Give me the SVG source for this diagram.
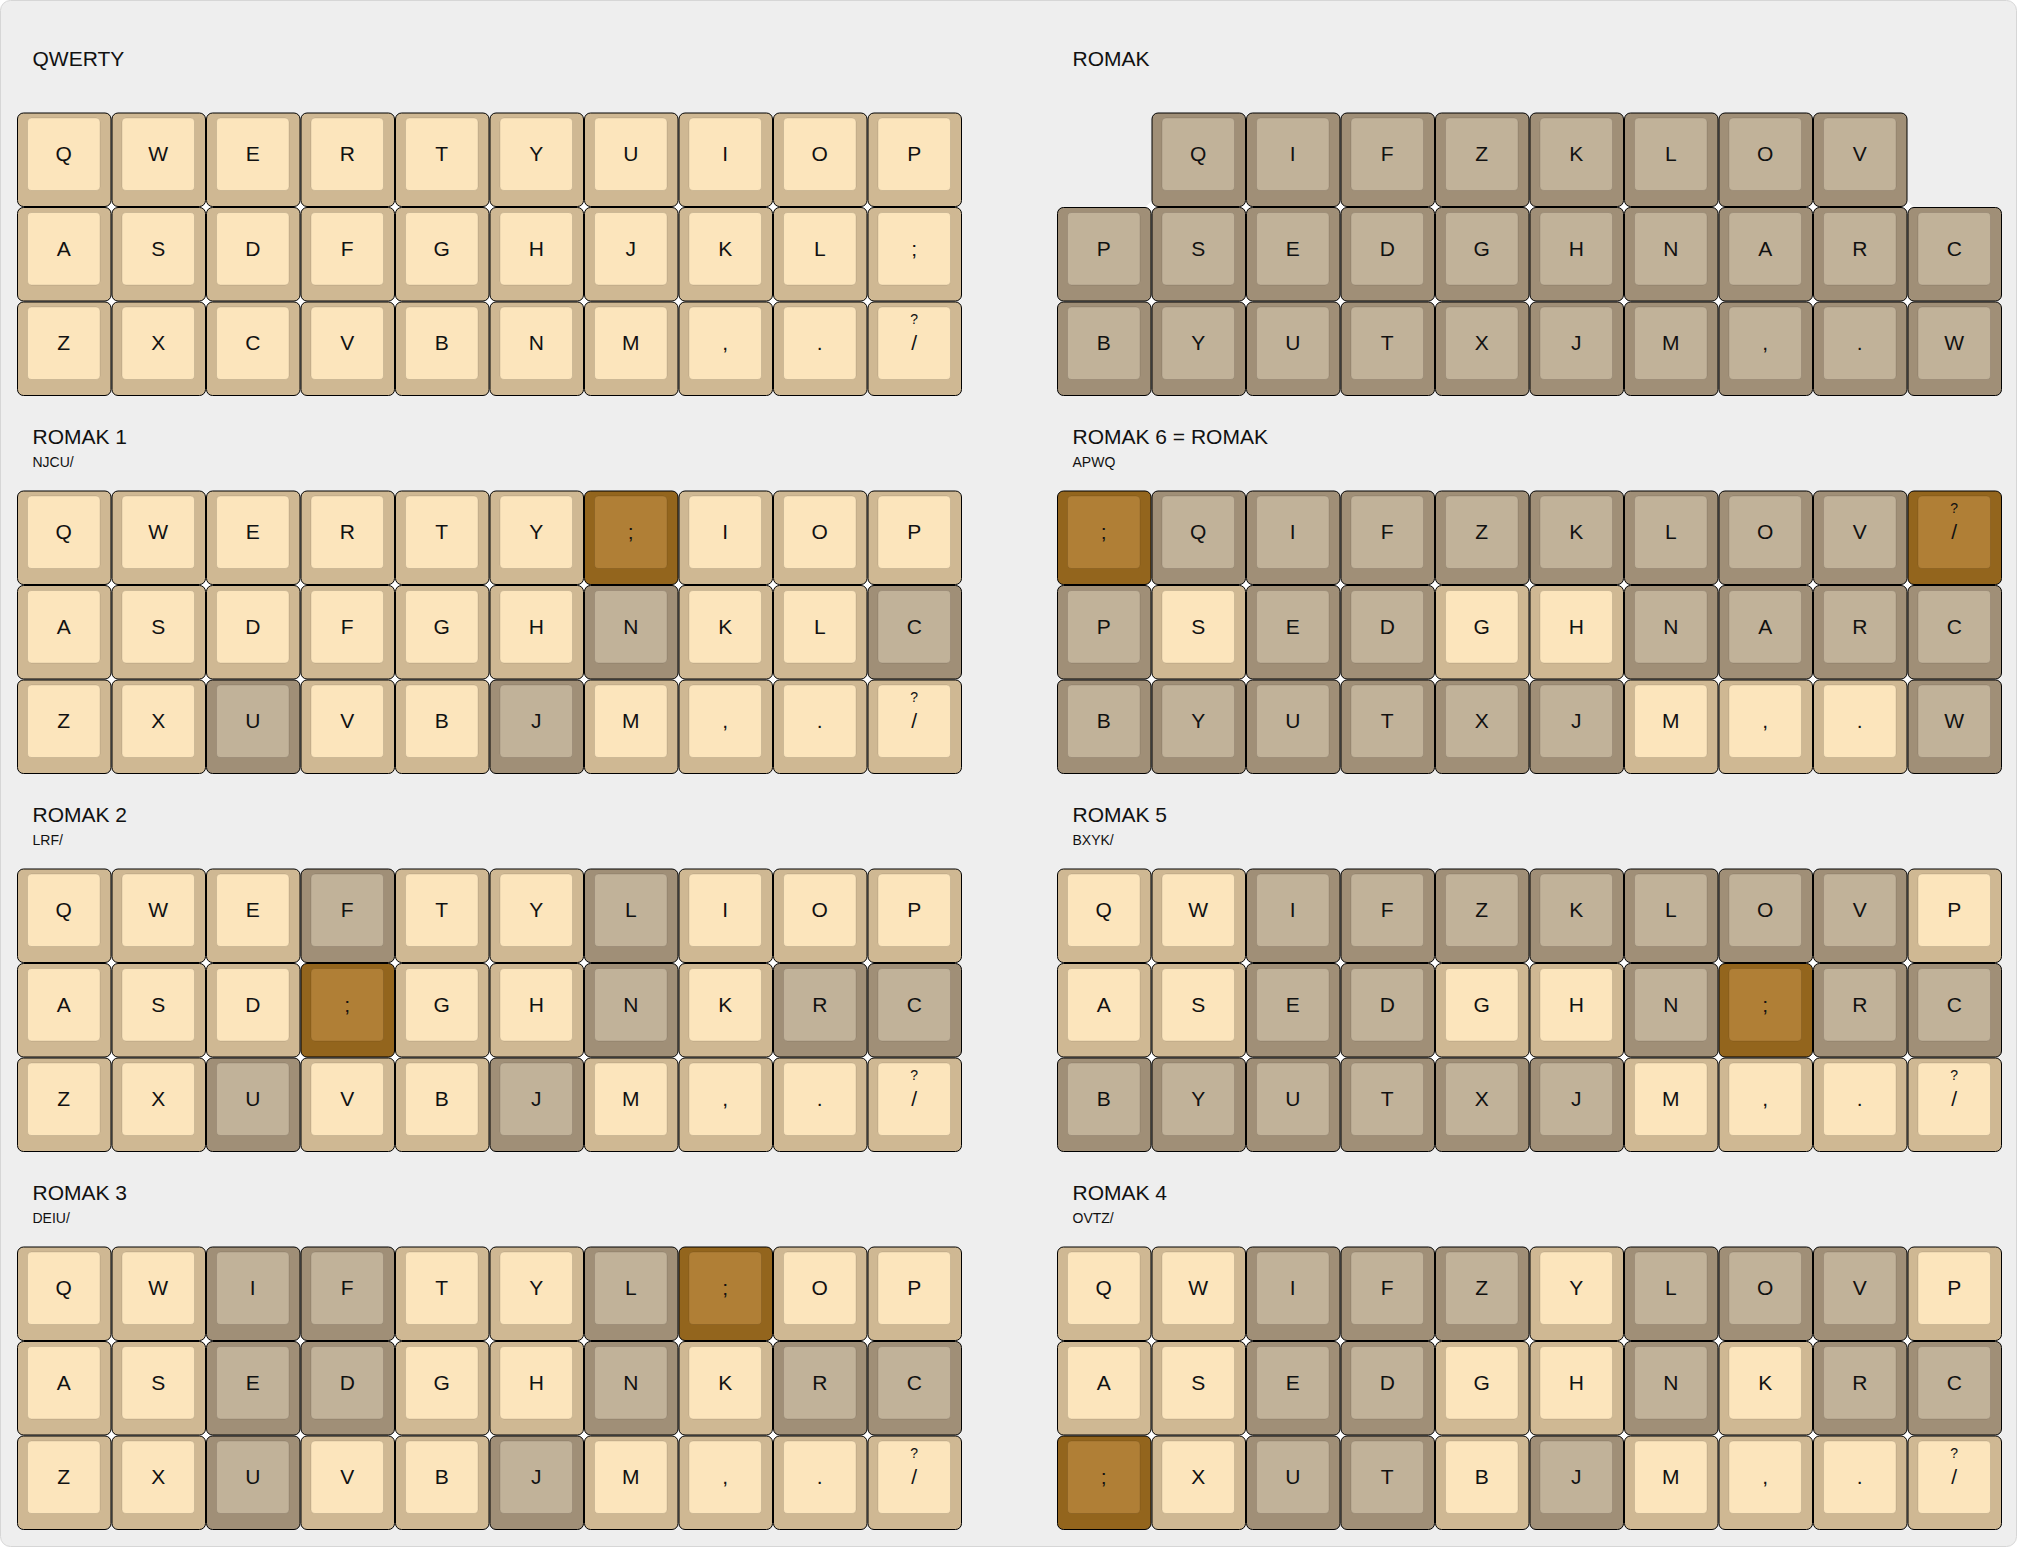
<svg xmlns="http://www.w3.org/2000/svg" xmlns:xlink="http://www.w3.org/1999/xlink" width="2020" height="1547" viewBox="0 0 2020 1547">
<style>
.kb text{font-family:"Liberation Sans",Arial,sans-serif;font-size:21px;text-anchor:middle;fill:#111}
.kb text.sm{font-size:14px}
.title{font-family:"Liberation Sans",Arial,sans-serif;font-size:21px;fill:#111}
.sub{font-family:"Liberation Sans",Arial,sans-serif;font-size:14px;fill:#111}
</style>
<defs>
<g id="L"><rect x="0.5" y="0.5" width="93.5" height="93.5" rx="6" fill="#cfb893" stroke="#000"/><rect x="10.5" y="5.5" width="72.5" height="72.5" rx="4" fill="#fce5bc" stroke="#000" stroke-opacity="0.1"/></g>
<g id="G"><rect x="0.5" y="0.5" width="93.5" height="93.5" rx="6" fill="#a08f77" stroke="#000"/><rect x="10.5" y="5.5" width="72.5" height="72.5" rx="4" fill="#c1b299" stroke="#000" stroke-opacity="0.1"/></g>
<g id="B"><rect x="0.5" y="0.5" width="93.5" height="93.5" rx="6" fill="#93651d" stroke="#000"/><rect x="10.5" y="5.5" width="72.5" height="72.5" rx="4" fill="#b07f36" stroke="#000" stroke-opacity="0.1"/></g>
<path id="junc" fill="#fff" d="M88.5 94.5l6-6 6 6-6 6zM183 94.5l6-6 6 6-6 6zM277.5 94.5l6-6 6 6-6 6zM372 94.5l6-6 6 6-6 6zM466.5 94.5l6-6 6 6-6 6zM561 94.5l6-6 6 6-6 6zM655.5 94.5l6-6 6 6-6 6zM750 94.5l6-6 6 6-6 6zM844.5 94.5l6-6 6 6-6 6zM88.5 189l6-6 6 6-6 6zM183 189l6-6 6 6-6 6zM277.5 189l6-6 6 6-6 6zM372 189l6-6 6 6-6 6zM466.5 189l6-6 6 6-6 6zM561 189l6-6 6 6-6 6zM655.5 189l6-6 6 6-6 6zM750 189l6-6 6 6-6 6zM844.5 189l6-6 6 6-6 6z"/>
</defs>
<rect x="0" y="0" width="2020" height="1547" fill="#fff"/>
<rect x="0.5" y="0.5" width="2016" height="1546" rx="10" fill="#eeeeee" stroke="#d6d6d6"/>

<g id="titles">
<text class="title" x="32.5" y="66">QWERTY</text>
<text class="title" x="1072.5" y="66">ROMAK</text>
<text class="title" x="32.5" y="444.3">ROMAK 1</text>
<text class="sub" x="32.5" y="466.7">NJCU/</text>
<text class="title" x="1072.5" y="444.3">ROMAK 6 = ROMAK</text>
<text class="sub" x="1072.5" y="466.7">APWQ</text>
<text class="title" x="32.5" y="822.3">ROMAK 2</text>
<text class="sub" x="32.5" y="844.7">LRF/</text>
<text class="title" x="1072.5" y="822.3">ROMAK 5</text>
<text class="sub" x="1072.5" y="844.7">BXYK/</text>
<text class="title" x="32.5" y="1200.3">ROMAK 3</text>
<text class="sub" x="32.5" y="1222.7">DEIU/</text>
<text class="title" x="1072.5" y="1200.3">ROMAK 4</text>
<text class="sub" x="1072.5" y="1222.7">OVTZ/</text>
</g>

<g id="kb-qwerty" class="kb" transform="translate(17 112.5)">
<use href="#junc"/>
<g id="qw-0-0" transform="translate(0 0)"><use href="#L"/><text x="46.75" y="48.5">Q</text></g>
<g id="qw-0-1" transform="translate(94.5 0)"><use href="#L"/><text x="46.75" y="48.5">W</text></g>
<g id="qw-0-2" transform="translate(189 0)"><use href="#L"/><text x="46.75" y="48.5">E</text></g>
<g id="qw-0-3" transform="translate(283.5 0)"><use href="#L"/><text x="46.75" y="48.5">R</text></g>
<g id="qw-0-4" transform="translate(378 0)"><use href="#L"/><text x="46.75" y="48.5">T</text></g>
<g id="qw-0-5" transform="translate(472.5 0)"><use href="#L"/><text x="46.75" y="48.5">Y</text></g>
<g id="qw-0-6" transform="translate(567 0)"><use href="#L"/><text x="46.75" y="48.5">U</text></g>
<g id="qw-0-7" transform="translate(661.5 0)"><use href="#L"/><text x="46.75" y="48.5">I</text></g>
<g id="qw-0-8" transform="translate(756 0)"><use href="#L"/><text x="46.75" y="48.5">O</text></g>
<g id="qw-0-9" transform="translate(850.5 0)"><use href="#L"/><text x="46.75" y="48.5">P</text></g>
<g id="qw-1-0" transform="translate(0 94.5)"><use href="#L"/><text x="46.75" y="48.5">A</text></g>
<g id="qw-1-1" transform="translate(94.5 94.5)"><use href="#L"/><text x="46.75" y="48.5">S</text></g>
<g id="qw-1-2" transform="translate(189 94.5)"><use href="#L"/><text x="46.75" y="48.5">D</text></g>
<g id="qw-1-3" transform="translate(283.5 94.5)"><use href="#L"/><text x="46.75" y="48.5">F</text></g>
<g id="qw-1-4" transform="translate(378 94.5)"><use href="#L"/><text x="46.75" y="48.5">G</text></g>
<g id="qw-1-5" transform="translate(472.5 94.5)"><use href="#L"/><text x="46.75" y="48.5">H</text></g>
<g id="qw-1-6" transform="translate(567 94.5)"><use href="#L"/><text x="46.75" y="48.5">J</text></g>
<g id="qw-1-7" transform="translate(661.5 94.5)"><use href="#L"/><text x="46.75" y="48.5">K</text></g>
<g id="qw-1-8" transform="translate(756 94.5)"><use href="#L"/><text x="46.75" y="48.5">L</text></g>
<g id="qw-1-9" transform="translate(850.5 94.5)"><use href="#L"/><text x="46.75" y="48.5">;</text></g>
<g id="qw-2-0" transform="translate(0 189)"><use href="#L"/><text x="46.75" y="48.5">Z</text></g>
<g id="qw-2-1" transform="translate(94.5 189)"><use href="#L"/><text x="46.75" y="48.5">X</text></g>
<g id="qw-2-2" transform="translate(189 189)"><use href="#L"/><text x="46.75" y="48.5">C</text></g>
<g id="qw-2-3" transform="translate(283.5 189)"><use href="#L"/><text x="46.75" y="48.5">V</text></g>
<g id="qw-2-4" transform="translate(378 189)"><use href="#L"/><text x="46.75" y="48.5">B</text></g>
<g id="qw-2-5" transform="translate(472.5 189)"><use href="#L"/><text x="46.75" y="48.5">N</text></g>
<g id="qw-2-6" transform="translate(567 189)"><use href="#L"/><text x="46.75" y="48.5">M</text></g>
<g id="qw-2-7" transform="translate(661.5 189)"><use href="#L"/><text x="46.75" y="48.5">,</text></g>
<g id="qw-2-8" transform="translate(756 189)"><use href="#L"/><text x="46.75" y="48.5">.</text></g>
<g id="qw-2-9" transform="translate(850.5 189)"><use href="#L"/><text class="sm" x="46.75" y="22.5">?</text><text x="46.75" y="48.5">/</text></g>
</g>

<g id="kb-romak" class="kb" transform="translate(1057 112.5)">
<use href="#junc"/>
<g id="rm-0-1" transform="translate(94.5 0)"><use href="#G"/><text x="46.75" y="48.5">Q</text></g>
<g id="rm-0-2" transform="translate(189 0)"><use href="#G"/><text x="46.75" y="48.5">I</text></g>
<g id="rm-0-3" transform="translate(283.5 0)"><use href="#G"/><text x="46.75" y="48.5">F</text></g>
<g id="rm-0-4" transform="translate(378 0)"><use href="#G"/><text x="46.75" y="48.5">Z</text></g>
<g id="rm-0-5" transform="translate(472.5 0)"><use href="#G"/><text x="46.75" y="48.5">K</text></g>
<g id="rm-0-6" transform="translate(567 0)"><use href="#G"/><text x="46.75" y="48.5">L</text></g>
<g id="rm-0-7" transform="translate(661.5 0)"><use href="#G"/><text x="46.75" y="48.5">O</text></g>
<g id="rm-0-8" transform="translate(756 0)"><use href="#G"/><text x="46.75" y="48.5">V</text></g>
<g id="rm-1-0" transform="translate(0 94.5)"><use href="#G"/><text x="46.75" y="48.5">P</text></g>
<g id="rm-1-1" transform="translate(94.5 94.5)"><use href="#G"/><text x="46.75" y="48.5">S</text></g>
<g id="rm-1-2" transform="translate(189 94.5)"><use href="#G"/><text x="46.75" y="48.5">E</text></g>
<g id="rm-1-3" transform="translate(283.5 94.5)"><use href="#G"/><text x="46.75" y="48.5">D</text></g>
<g id="rm-1-4" transform="translate(378 94.5)"><use href="#G"/><text x="46.75" y="48.5">G</text></g>
<g id="rm-1-5" transform="translate(472.5 94.5)"><use href="#G"/><text x="46.75" y="48.5">H</text></g>
<g id="rm-1-6" transform="translate(567 94.5)"><use href="#G"/><text x="46.75" y="48.5">N</text></g>
<g id="rm-1-7" transform="translate(661.5 94.5)"><use href="#G"/><text x="46.75" y="48.5">A</text></g>
<g id="rm-1-8" transform="translate(756 94.5)"><use href="#G"/><text x="46.75" y="48.5">R</text></g>
<g id="rm-1-9" transform="translate(850.5 94.5)"><use href="#G"/><text x="46.75" y="48.5">C</text></g>
<g id="rm-2-0" transform="translate(0 189)"><use href="#G"/><text x="46.75" y="48.5">B</text></g>
<g id="rm-2-1" transform="translate(94.5 189)"><use href="#G"/><text x="46.75" y="48.5">Y</text></g>
<g id="rm-2-2" transform="translate(189 189)"><use href="#G"/><text x="46.75" y="48.5">U</text></g>
<g id="rm-2-3" transform="translate(283.5 189)"><use href="#G"/><text x="46.75" y="48.5">T</text></g>
<g id="rm-2-4" transform="translate(378 189)"><use href="#G"/><text x="46.75" y="48.5">X</text></g>
<g id="rm-2-5" transform="translate(472.5 189)"><use href="#G"/><text x="46.75" y="48.5">J</text></g>
<g id="rm-2-6" transform="translate(567 189)"><use href="#G"/><text x="46.75" y="48.5">M</text></g>
<g id="rm-2-7" transform="translate(661.5 189)"><use href="#G"/><text x="46.75" y="48.5">,</text></g>
<g id="rm-2-8" transform="translate(756 189)"><use href="#G"/><text x="46.75" y="48.5">.</text></g>
<g id="rm-2-9" transform="translate(850.5 189)"><use href="#G"/><text x="46.75" y="48.5">W</text></g>
</g>

<g id="kb-romak1" class="kb" transform="translate(17 490.5)">
<use href="#junc"/>
<g id="r1-0-0" transform="translate(0 0)"><use href="#L"/><text x="46.75" y="48.5">Q</text></g>
<g id="r1-0-1" transform="translate(94.5 0)"><use href="#L"/><text x="46.75" y="48.5">W</text></g>
<g id="r1-0-2" transform="translate(189 0)"><use href="#L"/><text x="46.75" y="48.5">E</text></g>
<g id="r1-0-3" transform="translate(283.5 0)"><use href="#L"/><text x="46.75" y="48.5">R</text></g>
<g id="r1-0-4" transform="translate(378 0)"><use href="#L"/><text x="46.75" y="48.5">T</text></g>
<g id="r1-0-5" transform="translate(472.5 0)"><use href="#L"/><text x="46.75" y="48.5">Y</text></g>
<g id="r1-0-6" transform="translate(567 0)"><use href="#B"/><text x="46.75" y="48.5">;</text></g>
<g id="r1-0-7" transform="translate(661.5 0)"><use href="#L"/><text x="46.75" y="48.5">I</text></g>
<g id="r1-0-8" transform="translate(756 0)"><use href="#L"/><text x="46.75" y="48.5">O</text></g>
<g id="r1-0-9" transform="translate(850.5 0)"><use href="#L"/><text x="46.75" y="48.5">P</text></g>
<g id="r1-1-0" transform="translate(0 94.5)"><use href="#L"/><text x="46.75" y="48.5">A</text></g>
<g id="r1-1-1" transform="translate(94.5 94.5)"><use href="#L"/><text x="46.75" y="48.5">S</text></g>
<g id="r1-1-2" transform="translate(189 94.5)"><use href="#L"/><text x="46.75" y="48.5">D</text></g>
<g id="r1-1-3" transform="translate(283.5 94.5)"><use href="#L"/><text x="46.75" y="48.5">F</text></g>
<g id="r1-1-4" transform="translate(378 94.5)"><use href="#L"/><text x="46.75" y="48.5">G</text></g>
<g id="r1-1-5" transform="translate(472.5 94.5)"><use href="#L"/><text x="46.75" y="48.5">H</text></g>
<g id="r1-1-6" transform="translate(567 94.5)"><use href="#G"/><text x="46.75" y="48.5">N</text></g>
<g id="r1-1-7" transform="translate(661.5 94.5)"><use href="#L"/><text x="46.75" y="48.5">K</text></g>
<g id="r1-1-8" transform="translate(756 94.5)"><use href="#L"/><text x="46.75" y="48.5">L</text></g>
<g id="r1-1-9" transform="translate(850.5 94.5)"><use href="#G"/><text x="46.75" y="48.5">C</text></g>
<g id="r1-2-0" transform="translate(0 189)"><use href="#L"/><text x="46.75" y="48.5">Z</text></g>
<g id="r1-2-1" transform="translate(94.5 189)"><use href="#L"/><text x="46.75" y="48.5">X</text></g>
<g id="r1-2-2" transform="translate(189 189)"><use href="#G"/><text x="46.75" y="48.5">U</text></g>
<g id="r1-2-3" transform="translate(283.5 189)"><use href="#L"/><text x="46.75" y="48.5">V</text></g>
<g id="r1-2-4" transform="translate(378 189)"><use href="#L"/><text x="46.75" y="48.5">B</text></g>
<g id="r1-2-5" transform="translate(472.5 189)"><use href="#G"/><text x="46.75" y="48.5">J</text></g>
<g id="r1-2-6" transform="translate(567 189)"><use href="#L"/><text x="46.75" y="48.5">M</text></g>
<g id="r1-2-7" transform="translate(661.5 189)"><use href="#L"/><text x="46.75" y="48.5">,</text></g>
<g id="r1-2-8" transform="translate(756 189)"><use href="#L"/><text x="46.75" y="48.5">.</text></g>
<g id="r1-2-9" transform="translate(850.5 189)"><use href="#L"/><text class="sm" x="46.75" y="22.5">?</text><text x="46.75" y="48.5">/</text></g>
</g>

<g id="kb-romak6" class="kb" transform="translate(1057 490.5)">
<use href="#junc"/>
<g id="r6-0-0" transform="translate(0 0)"><use href="#B"/><text x="46.75" y="48.5">;</text></g>
<g id="r6-0-1" transform="translate(94.5 0)"><use href="#G"/><text x="46.75" y="48.5">Q</text></g>
<g id="r6-0-2" transform="translate(189 0)"><use href="#G"/><text x="46.75" y="48.5">I</text></g>
<g id="r6-0-3" transform="translate(283.5 0)"><use href="#G"/><text x="46.75" y="48.5">F</text></g>
<g id="r6-0-4" transform="translate(378 0)"><use href="#G"/><text x="46.75" y="48.5">Z</text></g>
<g id="r6-0-5" transform="translate(472.5 0)"><use href="#G"/><text x="46.75" y="48.5">K</text></g>
<g id="r6-0-6" transform="translate(567 0)"><use href="#G"/><text x="46.75" y="48.5">L</text></g>
<g id="r6-0-7" transform="translate(661.5 0)"><use href="#G"/><text x="46.75" y="48.5">O</text></g>
<g id="r6-0-8" transform="translate(756 0)"><use href="#G"/><text x="46.75" y="48.5">V</text></g>
<g id="r6-0-9" transform="translate(850.5 0)"><use href="#B"/><text class="sm" x="46.75" y="22.5">?</text><text x="46.75" y="48.5">/</text></g>
<g id="r6-1-0" transform="translate(0 94.5)"><use href="#G"/><text x="46.75" y="48.5">P</text></g>
<g id="r6-1-1" transform="translate(94.5 94.5)"><use href="#L"/><text x="46.75" y="48.5">S</text></g>
<g id="r6-1-2" transform="translate(189 94.5)"><use href="#G"/><text x="46.75" y="48.5">E</text></g>
<g id="r6-1-3" transform="translate(283.5 94.5)"><use href="#G"/><text x="46.75" y="48.5">D</text></g>
<g id="r6-1-4" transform="translate(378 94.5)"><use href="#L"/><text x="46.75" y="48.5">G</text></g>
<g id="r6-1-5" transform="translate(472.5 94.5)"><use href="#L"/><text x="46.75" y="48.5">H</text></g>
<g id="r6-1-6" transform="translate(567 94.5)"><use href="#G"/><text x="46.75" y="48.5">N</text></g>
<g id="r6-1-7" transform="translate(661.5 94.5)"><use href="#G"/><text x="46.75" y="48.5">A</text></g>
<g id="r6-1-8" transform="translate(756 94.5)"><use href="#G"/><text x="46.75" y="48.5">R</text></g>
<g id="r6-1-9" transform="translate(850.5 94.5)"><use href="#G"/><text x="46.75" y="48.5">C</text></g>
<g id="r6-2-0" transform="translate(0 189)"><use href="#G"/><text x="46.75" y="48.5">B</text></g>
<g id="r6-2-1" transform="translate(94.5 189)"><use href="#G"/><text x="46.75" y="48.5">Y</text></g>
<g id="r6-2-2" transform="translate(189 189)"><use href="#G"/><text x="46.75" y="48.5">U</text></g>
<g id="r6-2-3" transform="translate(283.5 189)"><use href="#G"/><text x="46.75" y="48.5">T</text></g>
<g id="r6-2-4" transform="translate(378 189)"><use href="#G"/><text x="46.75" y="48.5">X</text></g>
<g id="r6-2-5" transform="translate(472.5 189)"><use href="#G"/><text x="46.75" y="48.5">J</text></g>
<g id="r6-2-6" transform="translate(567 189)"><use href="#L"/><text x="46.75" y="48.5">M</text></g>
<g id="r6-2-7" transform="translate(661.5 189)"><use href="#L"/><text x="46.75" y="48.5">,</text></g>
<g id="r6-2-8" transform="translate(756 189)"><use href="#L"/><text x="46.75" y="48.5">.</text></g>
<g id="r6-2-9" transform="translate(850.5 189)"><use href="#G"/><text x="46.75" y="48.5">W</text></g>
</g>

<g id="kb-romak2" class="kb" transform="translate(17 868.5)">
<use href="#junc"/>
<g id="r2-0-0" transform="translate(0 0)"><use href="#L"/><text x="46.75" y="48.5">Q</text></g>
<g id="r2-0-1" transform="translate(94.5 0)"><use href="#L"/><text x="46.75" y="48.5">W</text></g>
<g id="r2-0-2" transform="translate(189 0)"><use href="#L"/><text x="46.75" y="48.5">E</text></g>
<g id="r2-0-3" transform="translate(283.5 0)"><use href="#G"/><text x="46.75" y="48.5">F</text></g>
<g id="r2-0-4" transform="translate(378 0)"><use href="#L"/><text x="46.75" y="48.5">T</text></g>
<g id="r2-0-5" transform="translate(472.5 0)"><use href="#L"/><text x="46.75" y="48.5">Y</text></g>
<g id="r2-0-6" transform="translate(567 0)"><use href="#G"/><text x="46.75" y="48.5">L</text></g>
<g id="r2-0-7" transform="translate(661.5 0)"><use href="#L"/><text x="46.75" y="48.5">I</text></g>
<g id="r2-0-8" transform="translate(756 0)"><use href="#L"/><text x="46.75" y="48.5">O</text></g>
<g id="r2-0-9" transform="translate(850.5 0)"><use href="#L"/><text x="46.75" y="48.5">P</text></g>
<g id="r2-1-0" transform="translate(0 94.5)"><use href="#L"/><text x="46.75" y="48.5">A</text></g>
<g id="r2-1-1" transform="translate(94.5 94.5)"><use href="#L"/><text x="46.75" y="48.5">S</text></g>
<g id="r2-1-2" transform="translate(189 94.5)"><use href="#L"/><text x="46.75" y="48.5">D</text></g>
<g id="r2-1-3" transform="translate(283.5 94.5)"><use href="#B"/><text x="46.75" y="48.5">;</text></g>
<g id="r2-1-4" transform="translate(378 94.5)"><use href="#L"/><text x="46.75" y="48.5">G</text></g>
<g id="r2-1-5" transform="translate(472.5 94.5)"><use href="#L"/><text x="46.75" y="48.5">H</text></g>
<g id="r2-1-6" transform="translate(567 94.5)"><use href="#G"/><text x="46.75" y="48.5">N</text></g>
<g id="r2-1-7" transform="translate(661.5 94.5)"><use href="#L"/><text x="46.75" y="48.5">K</text></g>
<g id="r2-1-8" transform="translate(756 94.5)"><use href="#G"/><text x="46.75" y="48.5">R</text></g>
<g id="r2-1-9" transform="translate(850.5 94.5)"><use href="#G"/><text x="46.75" y="48.5">C</text></g>
<g id="r2-2-0" transform="translate(0 189)"><use href="#L"/><text x="46.75" y="48.5">Z</text></g>
<g id="r2-2-1" transform="translate(94.5 189)"><use href="#L"/><text x="46.75" y="48.5">X</text></g>
<g id="r2-2-2" transform="translate(189 189)"><use href="#G"/><text x="46.75" y="48.5">U</text></g>
<g id="r2-2-3" transform="translate(283.5 189)"><use href="#L"/><text x="46.75" y="48.5">V</text></g>
<g id="r2-2-4" transform="translate(378 189)"><use href="#L"/><text x="46.75" y="48.5">B</text></g>
<g id="r2-2-5" transform="translate(472.5 189)"><use href="#G"/><text x="46.75" y="48.5">J</text></g>
<g id="r2-2-6" transform="translate(567 189)"><use href="#L"/><text x="46.75" y="48.5">M</text></g>
<g id="r2-2-7" transform="translate(661.5 189)"><use href="#L"/><text x="46.75" y="48.5">,</text></g>
<g id="r2-2-8" transform="translate(756 189)"><use href="#L"/><text x="46.75" y="48.5">.</text></g>
<g id="r2-2-9" transform="translate(850.5 189)"><use href="#L"/><text class="sm" x="46.75" y="22.5">?</text><text x="46.75" y="48.5">/</text></g>
</g>

<g id="kb-romak5" class="kb" transform="translate(1057 868.5)">
<use href="#junc"/>
<g id="r5-0-0" transform="translate(0 0)"><use href="#L"/><text x="46.75" y="48.5">Q</text></g>
<g id="r5-0-1" transform="translate(94.5 0)"><use href="#L"/><text x="46.75" y="48.5">W</text></g>
<g id="r5-0-2" transform="translate(189 0)"><use href="#G"/><text x="46.75" y="48.5">I</text></g>
<g id="r5-0-3" transform="translate(283.5 0)"><use href="#G"/><text x="46.75" y="48.5">F</text></g>
<g id="r5-0-4" transform="translate(378 0)"><use href="#G"/><text x="46.75" y="48.5">Z</text></g>
<g id="r5-0-5" transform="translate(472.5 0)"><use href="#G"/><text x="46.75" y="48.5">K</text></g>
<g id="r5-0-6" transform="translate(567 0)"><use href="#G"/><text x="46.75" y="48.5">L</text></g>
<g id="r5-0-7" transform="translate(661.5 0)"><use href="#G"/><text x="46.75" y="48.5">O</text></g>
<g id="r5-0-8" transform="translate(756 0)"><use href="#G"/><text x="46.75" y="48.5">V</text></g>
<g id="r5-0-9" transform="translate(850.5 0)"><use href="#L"/><text x="46.75" y="48.5">P</text></g>
<g id="r5-1-0" transform="translate(0 94.5)"><use href="#L"/><text x="46.75" y="48.5">A</text></g>
<g id="r5-1-1" transform="translate(94.5 94.5)"><use href="#L"/><text x="46.75" y="48.5">S</text></g>
<g id="r5-1-2" transform="translate(189 94.5)"><use href="#G"/><text x="46.75" y="48.5">E</text></g>
<g id="r5-1-3" transform="translate(283.5 94.5)"><use href="#G"/><text x="46.75" y="48.5">D</text></g>
<g id="r5-1-4" transform="translate(378 94.5)"><use href="#L"/><text x="46.75" y="48.5">G</text></g>
<g id="r5-1-5" transform="translate(472.5 94.5)"><use href="#L"/><text x="46.75" y="48.5">H</text></g>
<g id="r5-1-6" transform="translate(567 94.5)"><use href="#G"/><text x="46.75" y="48.5">N</text></g>
<g id="r5-1-7" transform="translate(661.5 94.5)"><use href="#B"/><text x="46.75" y="48.5">;</text></g>
<g id="r5-1-8" transform="translate(756 94.5)"><use href="#G"/><text x="46.75" y="48.5">R</text></g>
<g id="r5-1-9" transform="translate(850.5 94.5)"><use href="#G"/><text x="46.75" y="48.5">C</text></g>
<g id="r5-2-0" transform="translate(0 189)"><use href="#G"/><text x="46.75" y="48.5">B</text></g>
<g id="r5-2-1" transform="translate(94.5 189)"><use href="#G"/><text x="46.75" y="48.5">Y</text></g>
<g id="r5-2-2" transform="translate(189 189)"><use href="#G"/><text x="46.75" y="48.5">U</text></g>
<g id="r5-2-3" transform="translate(283.5 189)"><use href="#G"/><text x="46.75" y="48.5">T</text></g>
<g id="r5-2-4" transform="translate(378 189)"><use href="#G"/><text x="46.75" y="48.5">X</text></g>
<g id="r5-2-5" transform="translate(472.5 189)"><use href="#G"/><text x="46.75" y="48.5">J</text></g>
<g id="r5-2-6" transform="translate(567 189)"><use href="#L"/><text x="46.75" y="48.5">M</text></g>
<g id="r5-2-7" transform="translate(661.5 189)"><use href="#L"/><text x="46.75" y="48.5">,</text></g>
<g id="r5-2-8" transform="translate(756 189)"><use href="#L"/><text x="46.75" y="48.5">.</text></g>
<g id="r5-2-9" transform="translate(850.5 189)"><use href="#L"/><text class="sm" x="46.75" y="22.5">?</text><text x="46.75" y="48.5">/</text></g>
</g>

<g id="kb-romak3" class="kb" transform="translate(17 1246.5)">
<use href="#junc"/>
<g id="r3-0-0" transform="translate(0 0)"><use href="#L"/><text x="46.75" y="48.5">Q</text></g>
<g id="r3-0-1" transform="translate(94.5 0)"><use href="#L"/><text x="46.75" y="48.5">W</text></g>
<g id="r3-0-2" transform="translate(189 0)"><use href="#G"/><text x="46.75" y="48.5">I</text></g>
<g id="r3-0-3" transform="translate(283.5 0)"><use href="#G"/><text x="46.75" y="48.5">F</text></g>
<g id="r3-0-4" transform="translate(378 0)"><use href="#L"/><text x="46.75" y="48.5">T</text></g>
<g id="r3-0-5" transform="translate(472.5 0)"><use href="#L"/><text x="46.75" y="48.5">Y</text></g>
<g id="r3-0-6" transform="translate(567 0)"><use href="#G"/><text x="46.75" y="48.5">L</text></g>
<g id="r3-0-7" transform="translate(661.5 0)"><use href="#B"/><text x="46.75" y="48.5">;</text></g>
<g id="r3-0-8" transform="translate(756 0)"><use href="#L"/><text x="46.75" y="48.5">O</text></g>
<g id="r3-0-9" transform="translate(850.5 0)"><use href="#L"/><text x="46.75" y="48.5">P</text></g>
<g id="r3-1-0" transform="translate(0 94.5)"><use href="#L"/><text x="46.75" y="48.5">A</text></g>
<g id="r3-1-1" transform="translate(94.5 94.5)"><use href="#L"/><text x="46.75" y="48.5">S</text></g>
<g id="r3-1-2" transform="translate(189 94.5)"><use href="#G"/><text x="46.75" y="48.5">E</text></g>
<g id="r3-1-3" transform="translate(283.5 94.5)"><use href="#G"/><text x="46.75" y="48.5">D</text></g>
<g id="r3-1-4" transform="translate(378 94.5)"><use href="#L"/><text x="46.75" y="48.5">G</text></g>
<g id="r3-1-5" transform="translate(472.5 94.5)"><use href="#L"/><text x="46.75" y="48.5">H</text></g>
<g id="r3-1-6" transform="translate(567 94.5)"><use href="#G"/><text x="46.75" y="48.5">N</text></g>
<g id="r3-1-7" transform="translate(661.5 94.5)"><use href="#L"/><text x="46.75" y="48.5">K</text></g>
<g id="r3-1-8" transform="translate(756 94.5)"><use href="#G"/><text x="46.75" y="48.5">R</text></g>
<g id="r3-1-9" transform="translate(850.5 94.5)"><use href="#G"/><text x="46.75" y="48.5">C</text></g>
<g id="r3-2-0" transform="translate(0 189)"><use href="#L"/><text x="46.75" y="48.5">Z</text></g>
<g id="r3-2-1" transform="translate(94.5 189)"><use href="#L"/><text x="46.75" y="48.5">X</text></g>
<g id="r3-2-2" transform="translate(189 189)"><use href="#G"/><text x="46.75" y="48.5">U</text></g>
<g id="r3-2-3" transform="translate(283.5 189)"><use href="#L"/><text x="46.75" y="48.5">V</text></g>
<g id="r3-2-4" transform="translate(378 189)"><use href="#L"/><text x="46.75" y="48.5">B</text></g>
<g id="r3-2-5" transform="translate(472.5 189)"><use href="#G"/><text x="46.75" y="48.5">J</text></g>
<g id="r3-2-6" transform="translate(567 189)"><use href="#L"/><text x="46.75" y="48.5">M</text></g>
<g id="r3-2-7" transform="translate(661.5 189)"><use href="#L"/><text x="46.75" y="48.5">,</text></g>
<g id="r3-2-8" transform="translate(756 189)"><use href="#L"/><text x="46.75" y="48.5">.</text></g>
<g id="r3-2-9" transform="translate(850.5 189)"><use href="#L"/><text class="sm" x="46.75" y="22.5">?</text><text x="46.75" y="48.5">/</text></g>
</g>

<g id="kb-romak4" class="kb" transform="translate(1057 1246.5)">
<use href="#junc"/>
<g id="r4-0-0" transform="translate(0 0)"><use href="#L"/><text x="46.75" y="48.5">Q</text></g>
<g id="r4-0-1" transform="translate(94.5 0)"><use href="#L"/><text x="46.75" y="48.5">W</text></g>
<g id="r4-0-2" transform="translate(189 0)"><use href="#G"/><text x="46.75" y="48.5">I</text></g>
<g id="r4-0-3" transform="translate(283.5 0)"><use href="#G"/><text x="46.75" y="48.5">F</text></g>
<g id="r4-0-4" transform="translate(378 0)"><use href="#G"/><text x="46.75" y="48.5">Z</text></g>
<g id="r4-0-5" transform="translate(472.5 0)"><use href="#L"/><text x="46.75" y="48.5">Y</text></g>
<g id="r4-0-6" transform="translate(567 0)"><use href="#G"/><text x="46.75" y="48.5">L</text></g>
<g id="r4-0-7" transform="translate(661.5 0)"><use href="#G"/><text x="46.75" y="48.5">O</text></g>
<g id="r4-0-8" transform="translate(756 0)"><use href="#G"/><text x="46.75" y="48.5">V</text></g>
<g id="r4-0-9" transform="translate(850.5 0)"><use href="#L"/><text x="46.75" y="48.5">P</text></g>
<g id="r4-1-0" transform="translate(0 94.5)"><use href="#L"/><text x="46.75" y="48.5">A</text></g>
<g id="r4-1-1" transform="translate(94.5 94.5)"><use href="#L"/><text x="46.75" y="48.5">S</text></g>
<g id="r4-1-2" transform="translate(189 94.5)"><use href="#G"/><text x="46.75" y="48.5">E</text></g>
<g id="r4-1-3" transform="translate(283.5 94.5)"><use href="#G"/><text x="46.75" y="48.5">D</text></g>
<g id="r4-1-4" transform="translate(378 94.5)"><use href="#L"/><text x="46.75" y="48.5">G</text></g>
<g id="r4-1-5" transform="translate(472.5 94.5)"><use href="#L"/><text x="46.75" y="48.5">H</text></g>
<g id="r4-1-6" transform="translate(567 94.5)"><use href="#G"/><text x="46.75" y="48.5">N</text></g>
<g id="r4-1-7" transform="translate(661.5 94.5)"><use href="#L"/><text x="46.75" y="48.5">K</text></g>
<g id="r4-1-8" transform="translate(756 94.5)"><use href="#G"/><text x="46.75" y="48.5">R</text></g>
<g id="r4-1-9" transform="translate(850.5 94.5)"><use href="#G"/><text x="46.75" y="48.5">C</text></g>
<g id="r4-2-0" transform="translate(0 189)"><use href="#B"/><text x="46.75" y="48.5">;</text></g>
<g id="r4-2-1" transform="translate(94.5 189)"><use href="#L"/><text x="46.75" y="48.5">X</text></g>
<g id="r4-2-2" transform="translate(189 189)"><use href="#G"/><text x="46.75" y="48.5">U</text></g>
<g id="r4-2-3" transform="translate(283.5 189)"><use href="#G"/><text x="46.75" y="48.5">T</text></g>
<g id="r4-2-4" transform="translate(378 189)"><use href="#L"/><text x="46.75" y="48.5">B</text></g>
<g id="r4-2-5" transform="translate(472.5 189)"><use href="#G"/><text x="46.75" y="48.5">J</text></g>
<g id="r4-2-6" transform="translate(567 189)"><use href="#L"/><text x="46.75" y="48.5">M</text></g>
<g id="r4-2-7" transform="translate(661.5 189)"><use href="#L"/><text x="46.75" y="48.5">,</text></g>
<g id="r4-2-8" transform="translate(756 189)"><use href="#L"/><text x="46.75" y="48.5">.</text></g>
<g id="r4-2-9" transform="translate(850.5 189)"><use href="#L"/><text class="sm" x="46.75" y="22.5">?</text><text x="46.75" y="48.5">/</text></g>
</g>

<g id="connectors"/>
</svg>
